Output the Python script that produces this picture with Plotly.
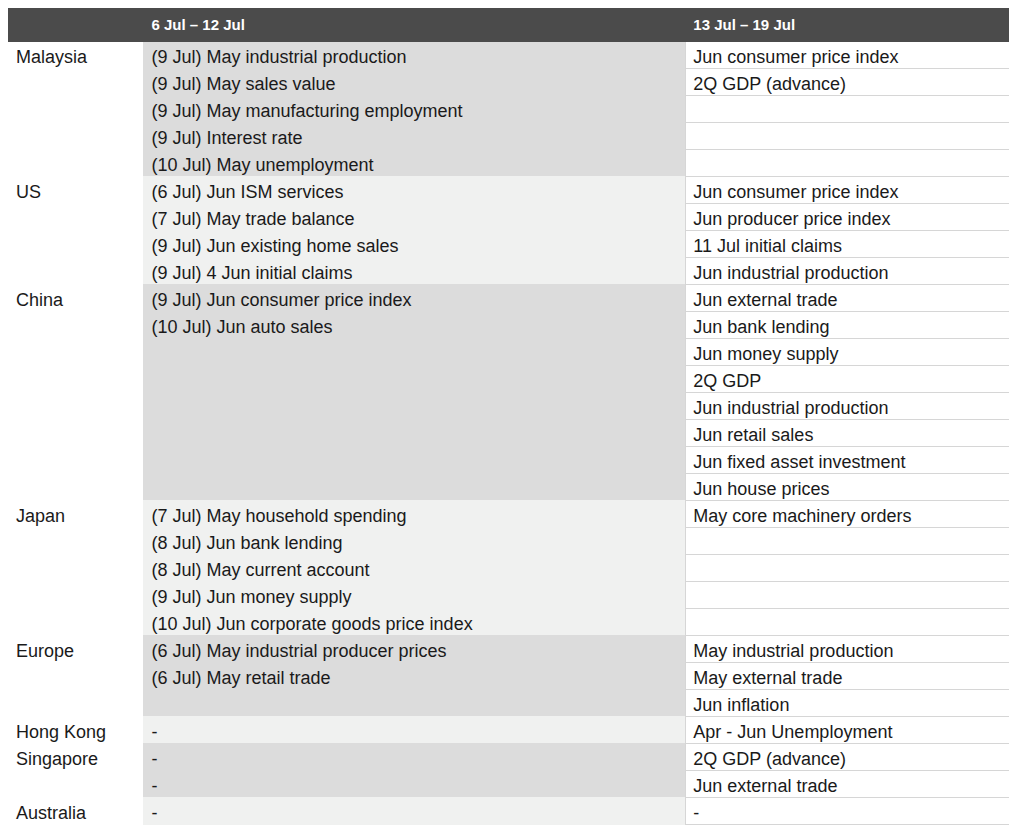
import plotly.graph_objects as go

headers = ["", "6 Jul – 12 Jul", "13 Jul – 19 Jul"]

regions = ["Malaysia", "US", "China", "Japan", "Europe", "Hong Kong", "Singapore", "Australia"]

week1 = [
    ["(9 Jul) May industrial production", "(9 Jul) May sales value",
     "(9 Jul) May manufacturing employment", "(9 Jul) Interest rate",
     "(10 Jul) May unemployment"],
    ["(6 Jul) Jun ISM services", "(7 Jul) May trade balance",
     "(9 Jul) Jun existing home sales", "(9 Jul) 4 Jun initial claims"],
    ["(9 Jul) Jun consumer price index", "(10 Jul) Jun auto sales", "", "", "", "", "", ""],
    ["(7 Jul) May household spending", "(8 Jul) Jun bank lending",
     "(8 Jul) May current account", "(9 Jul) Jun money supply",
     "(10 Jul) Jun corporate goods price index"],
    ["(6 Jul) May industrial producer prices", "(6 Jul) May retail trade", ""],
    ["-"],
    ["-", "-"],
    ["-"],
]

week2 = [
    ["Jun consumer price index", "2Q GDP (advance)", "", "", ""],
    ["Jun consumer price index", "Jun producer price index", "11 Jul initial claims",
     "Jun industrial production"],
    ["Jun external trade", "Jun bank lending", "Jun money supply", "2Q GDP",
     "Jun industrial production", "Jun retail sales", "Jun fixed asset investment",
     "Jun house prices"],
    ["May core machinery orders", "", "", "", ""],
    ["May industrial production", "May external trade", "Jun inflation"],
    ["Apr - Jun Unemployment"],
    ["2Q GDP (advance)", "Jun external trade"],
    ["-"],
]

DARK = "#dcdcdc"
LIGHT = "#f0f1f0"

col0, col1, col2 = [], [], []
fill1 = []
for i, r in enumerate(regions):
    shade = DARK if i % 2 == 0 else LIGHT
    for j, (a, b) in enumerate(zip(week1[i], week2[i])):
        col0.append(r if j == 0 else "")
        col1.append(a)
        col2.append(b)
        fill1.append(shade)

n = len(col0)
fig = go.Figure(go.Table(
    domain=dict(x=[0, 1], y=[0, 1]),
    columnwidth=[134, 536, 336],
    header=dict(
        values=["<b>%s</b>" % h for h in headers],
        fill_color="#4b4b4b",
        line=dict(color="#4b4b4b", width=1),
        font=dict(family="Liberation Sans, Arial", size=15, color="white"),
        align="left", height=31,
    ),
    cells=dict(
        values=[col0, col1, col2],
        fill_color=[["white"] * n, fill1, ["white"] * n],
        line=dict(color=[["white"] * n, fill1, ["#d6d6d6"] * n], width=1),
        font=dict(family="Liberation Sans, Arial", size=18, color="#1a1a1a"),
        align="left", height=27, prefix=None,
    ),
))
fig.update_layout(width=1017, height=836, margin=dict(l=0, r=0, t=0, b=0),
                  paper_bgcolor="white")
fig.write_html("out.html")
